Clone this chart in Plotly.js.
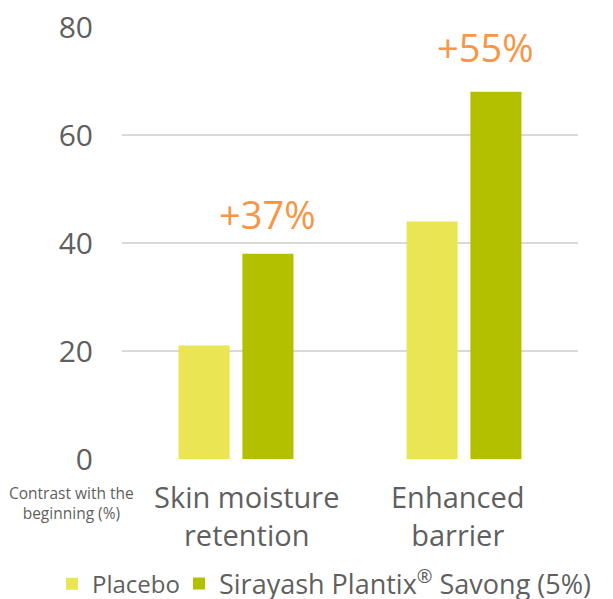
<!DOCTYPE html>
<html>
<head>
<meta charset="utf-8">
<script src="https://cdn.plot.ly/plotly-3.0.1.min.js"></script>
<style>html,body{margin:0;padding:0;background:#fff;}#chart{width:613px;height:599px;}</style>
</head>
<body>
<div id="chart"></div>
<script>
var categories = ['Skin moisture<br>retention', 'Enhanced<br>barrier'];
var placeboValues = [21, 44];
var plantixValues = [38, 68];
var increaseLabels = ['+37%', '+55%'];
var yTicks = [0, 20, 40, 60, 80];
var seriesNames = ['Placebo', 'Sirayash Plantix<sup>®</sup> Savong (5%)'];

var FONT = '"Open Sans", "Noto Sans", sans-serif';
var GRAY = '#5f5f5f';

var traces = [
  {type: 'bar', name: seriesNames[0], x: categories, y: placeboValues, legend: 'legend',
   marker: {color: '#E9E553'}, hoverinfo: 'none'},
  {type: 'bar', name: seriesNames[1], x: categories, y: plantixValues, legend: 'legend2',
   marker: {color: '#B3C000'}, hoverinfo: 'none'}
];

var annotations = [
  {x: categories[0], y: plantixValues[0], text: increaseLabels[0], xref: 'x', yref: 'y',
   showarrow: false, yanchor: 'bottom', xshift: 31, yshift: 12,
   font: {family: FONT, size: 38, color: '#F79646'}},
  {x: categories[1], y: plantixValues[1], text: increaseLabels[1], xref: 'x', yref: 'y',
   showarrow: false, yanchor: 'bottom', xshift: 21, yshift: 17,
   font: {family: FONT, size: 38, color: '#F79646'}},
  {x: (71 - 122) / 456, y: (459 - 503) / 432.5, xref: 'paper', yref: 'paper',
   xanchor: 'center', yanchor: 'middle', text: 'Contrast with the<br>beginning (%)',
   showarrow: false, font: {family: FONT, size: 15.5, color: GRAY}}
];
var labelShifts = [10, -6];
categories.forEach(function (c, i) {
  annotations.push({x: c, y: 0, xref: 'x', yref: 'y', text: c, showarrow: false,
    xanchor: 'center', yanchor: 'top', xshift: labelShifts[i], yshift: -16,
    font: {family: FONT, size: 29, color: GRAY}});
});

var legendBase = {orientation: 'h', xref: 'container', yref: 'container', y: 0.025,
  xanchor: 'left', yanchor: 'middle', font: {family: FONT, size: 24, color: GRAY},
  itemclick: false, itemdoubleclick: false, bgcolor: 'rgba(0,0,0,0)'};

var layout = {
  width: 613, height: 599,
  margin: {l: 122, r: 35, t: 27, b: 140, pad: 0},
  paper_bgcolor: '#fff', plot_bgcolor: '#fff',
  font: {family: FONT, color: GRAY},
  barmode: 'group',
  bargap: 0.44,
  bargroupgap: 0.2,
  showlegend: true,
  legend: Object.assign({}, legendBase, {x: 0.0848}),
  legend2: Object.assign({}, legendBase, {x: 0.292, font: {family: FONT, size: 27, color: GRAY}}),
  xaxis: {type: 'category', showgrid: false, zeroline: false, showline: false,
          ticks: '', showticklabels: false, fixedrange: true},
  yaxis: {range: [0, 80], tickvals: yTicks, ticktext: yTicks.map(String),
          showgrid: true, gridcolor: '#D9D9D9', gridwidth: 2, zeroline: false, showline: false,
          ticks: '', tickfont: {family: FONT, size: 30, color: GRAY}, ticklabelstandoff: 28,
          fixedrange: true},
  annotations: annotations
};

Plotly.newPlot('chart', traces, layout, {displayModeBar: false, staticPlot: true});
</script>
</body>
</html>
